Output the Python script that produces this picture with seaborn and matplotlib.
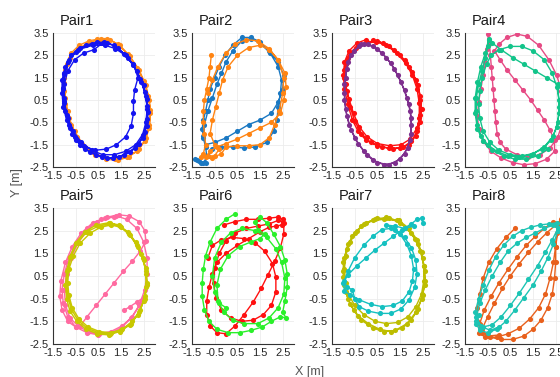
import matplotlib
matplotlib.use('Agg')
import matplotlib.pyplot as plt
import seaborn as sns

# trajectories, (x, y) in metres
pair1_orange = [(0.6, 3.25), (0.1, 3.15), (-0.35, 2.95), (-0.7, 2.6), (-0.9, 2.1), (-1.0, 1.5), (-1.0, 0.9),
                (-0.95, 0.3), (-0.8, -0.3), (-0.55, -0.9), (-0.2, -1.45), (0.25, -1.85), (0.75, -2.05),
                (1.25, -2.15), (1.75, -2.05), (2.2, -1.8), (2.55, -1.35), (2.75, -0.75), (2.8, -0.1),
                (2.75, 0.5), (2.6, 1.15), (2.3, 1.85), (1.9, 2.45), (1.45, 2.95), (1.0, 3.2),
                (0.55, 3.2), (0.05, 3.05), (-0.4, 2.8), (-0.75, 2.4), (-0.95, 1.85), (-1.0, 1.25),
                (-0.95, 0.6), (-0.85, 0.0), (-0.7, -0.6), (-0.45, -1.15), (-0.1, -1.6), (0.35, -1.95),
                (0.85, -2.15), (1.35, -2.2), (1.85, -2.05), (2.3, -1.7), (2.6, -1.2), (2.75, -0.6),
                (2.8, 0.05), (2.7, 0.7), (2.5, 1.35), (2.2, 1.95), (1.8, 2.55), (1.35, 3.0), (0.9, 3.25),
                (0.45, 3.25)]
pair1_blue = [(0.7, 3.05), (0.2, 3.0), (-0.3, 2.85), (-0.7, 2.5), (-0.95, 2.0), (-1.1, 1.4), (-1.1, 0.8),
              (-1.05, 0.2), (-0.9, -0.4), (-0.65, -1.0), (-0.3, -1.5), (0.15, -1.85), (0.65, -2.05),
              (1.15, -2.1), (1.65, -1.95), (2.1, -1.65), (2.45, -1.2), (2.65, -0.65), (2.7, -0.05),
              (2.65, 0.55), (2.5, 1.15), (2.2, 1.8), (1.8, 2.4), (1.35, 2.85), (0.9, 3.05),
              (0.45, 3.1), (-0.05, 2.95), (-0.5, 2.65), (-0.85, 2.2), (-1.0, 1.65), (-1.05, 1.05),
              (-1.0, 0.45), (-0.9, -0.15), (-0.75, -0.75), (-0.5, -1.3), (-0.1, -1.7), (0.4, -1.95),
              (0.9, -2.1), (1.4, -2.05), (1.9, -1.85), (2.3, -1.45), (2.55, -0.95), (2.65, -0.35),
              (2.65, 0.25), (2.55, 0.85), (2.35, 1.45), (2.05, 2.05), (1.65, 2.55), (1.2, 2.95),
              (0.75, 3.1), (0.3, 2.75), (-0.15, 2.6), (-0.55, 2.3), (-0.85, 1.8), (-1.0, 1.2),
              (-1.0, 0.6), (-0.95, 0.0), (-0.8, -0.6), (-0.55, -1.15), (-0.15, -1.55), (0.35, -1.75),
              (0.85, -1.7), (1.3, -1.5), (1.7, -1.15), (1.95, -0.65), (2.05, -0.1), (2.05, 0.45),
              (2.1, 0.95), (2.25, 1.5), (2.05, 2.1), (1.7, 2.5), (1.25, 2.8), (0.8, 2.95), (0.25, 2.95),
              (-0.4, 2.75), (-0.8, 2.3), (-1.0, 1.7), (-1.05, 1.0), (-1.0, 0.35), (-0.85, -0.3),
              (-0.6, -0.9), (-0.25, -1.4), (0.2, -1.75), (0.7, -1.95), (1.2, -1.95), (1.7, -1.8),
              (2.15, -1.5), (2.45, -1.05), (2.6, -0.5), (2.65, 0.1), (2.6, 0.7), (2.4, 1.3)]

pair2_blue = [(-1.3, -2.2), (-1.1, -2.3), (-0.9, -2.3), (-0.85, -2.0), (-0.9, -1.6), (-1.0, -1.2),
              (-1.05, -0.8), (-1.0, -0.4), (-0.9, 0.0), (-0.8, 0.5), (-0.7, 1.0), (-0.5, 1.5), (-0.3, 2.0),
              (-0.05, 2.5), (0.3, 2.95), (0.7, 3.3), (1.1, 3.3), (1.5, 3.1), (1.9, 2.7), (2.3, 2.2),
              (2.55, 1.6), (2.5, 1.0), (2.3, 0.4), (2.0, -0.1), (1.5, -0.4), (1.0, -0.6), (0.5, -0.9),
              (0.0, -1.2), (-0.5, -1.4), (-0.9, -1.5), (-1.0, -1.1), (-0.95, -0.6), (-0.8, 0.0),
              (-0.6, 0.6), (-0.4, 1.2), (-0.2, 1.7), (0.0, 2.2), (0.3, 2.7), (0.7, 3.15), (1.1, 3.25),
              (1.5, 3.05), (1.95, 2.6), (2.3, 2.0), (2.45, 1.4), (2.4, 0.8), (2.3, 0.2), (2.25, -0.4),
              (2.1, -0.9), (1.8, -1.4), (1.3, -1.6), (0.8, -1.65), (0.3, -1.6), (-0.2, -1.6),
              (-0.6, -1.7), (-0.8, -2.0), (-1.0, -2.3), (-1.2, -2.25), (-1.35, -2.15)]
pair2_orange = [(-0.65, 2.5), (-0.7, 2.0), (-0.75, 1.5), (-0.85, 1.0), (-0.95, 0.5), (-1.0, 0.0),
                (-1.0, -0.5), (-0.95, -1.0), (-0.9, -1.5), (-1.0, -1.9), (-1.1, -2.05), (-0.8, -2.0),
                (-0.5, -2.0), (-0.3, -1.7), (-0.5, -1.5), (-0.7, -1.0), (-0.6, -0.4), (-0.45, 0.2),
                (-0.3, 0.8), (-0.15, 1.4), (0.1, 2.0), (0.5, 2.5), (1.0, 2.85), (1.5, 2.95), (1.9, 2.75),
                (2.3, 2.3), (2.6, 1.7), (2.65, 1.1), (2.55, 0.5), (2.4, -0.1), (2.0, -0.5), (1.5, -0.75),
                (1.0, -1.0), (0.5, -1.25), (0.0, -1.45), (-0.4, -1.6), (-0.7, -1.8), (-0.9, -2.05),
                (-0.6, -2.1), (-0.2, -1.9), (0.0, -1.6), (0.5, -1.55), (1.0, -1.55), (1.5, -1.5),
                (1.9, -1.2), (2.15, -0.6), (2.35, 0.0), (2.5, 0.8), (2.55, 1.5), (2.3, 2.3), (1.9, 2.8),
                (1.4, 3.15), (0.9, 3.2), (0.4, 3.0), (0.0, 2.6), (-0.35, 2.0), (-0.6, 1.4), (-0.8, 0.8)]

pair3_red = [(0.0, 3.2), (-0.4, 3.05), (-0.75, 2.7), (-0.95, 2.2), (-1.0, 1.6), (-0.95, 1.0), (-0.8, 0.3),
             (-0.6, -0.4), (-0.35, -0.9), (0.0, -1.3), (0.5, -1.55), (1.0, -1.65), (1.5, -1.65), (1.9, -1.5),
             (2.2, -1.1), (2.4, -0.5), (2.45, 0.1), (2.4, 0.7), (2.2, 1.4), (1.9, 2.0), (1.5, 2.5),
             (1.0, 2.9), (0.5, 3.15), (0.05, 3.1), (-0.35, 2.95), (-0.7, 2.6), (-0.9, 2.1), (-0.95, 1.5),
             (-0.85, 0.9), (-0.7, 0.2), (-0.5, -0.45), (-0.2, -1.0), (0.2, -1.4), (0.7, -1.6), (1.2, -1.7),
             (1.65, -1.6), (2.0, -1.35), (2.25, -0.9), (2.35, -0.3), (2.35, 0.35), (2.25, 1.0),
             (2.05, 1.6), (1.75, 2.15), (1.35, 2.6), (0.9, 2.95), (0.45, 3.1), (0.0, 3.05), (-0.45, 2.85),
             (-0.8, 2.4), (-0.95, 1.85), (-0.9, 1.2), (-0.75, 0.55), (-0.55, -0.1), (-0.3, -0.7),
             (0.05, -1.15), (0.5, -1.45), (1.05, -1.55), (1.55, -1.5), (1.95, -1.25), (2.25, -0.75),
             (2.4, -0.15), (2.4, 0.5), (2.3, 1.15), (2.05, 1.75), (1.7, 2.3), (1.25, 2.75), (0.75, 3.05),
             (0.3, 3.2)]
pair3_purple = [(-0.2, 3.0), (-0.55, 2.7), (-0.8, 2.2), (-0.9, 1.5), (-0.95, 0.8), (-0.9, 0.1), (-0.75, -0.6),
                (-0.5, -1.2), (-0.1, -1.8), (0.3, -2.2), (0.8, -2.4), (1.3, -2.3), (1.7, -1.9), (1.95, -1.3),
                (2.0, -0.6), (1.95, 0.0), (1.8, 0.6), (1.55, 1.3), (1.25, 1.9), (0.9, 2.4), (0.5, 2.8),
                (0.1, 3.0), (-0.3, 2.9), (-0.65, 2.5), (-0.85, 1.9), (-0.95, 1.2), (-0.95, 0.5),
                (-0.85, -0.2), (-0.65, -0.85), (-0.35, -1.45), (0.05, -1.95), (0.5, -2.3), (1.0, -2.4),
                (1.5, -2.15), (1.85, -1.65), (2.0, -1.0), (2.0, -0.3), (1.9, 0.3), (1.7, 0.95), (1.4, 1.6),
                (1.1, 2.15), (0.7, 2.6), (0.3, 2.9), (-0.1, 3.0)]

pair4_pink = [(-0.9, -0.8), (-0.95, -0.2), (-0.9, 0.4), (-0.8, 1.0), (-0.7, 1.6), (-0.6, 2.2), (-0.52, 2.8),
              (-0.47, 3.45), (-0.42, 3.0), (-0.38, 2.5), (-0.34, 2.0), (-0.3, 1.5), (-0.26, 1.0),
              (-0.22, 0.5), (-0.18, 0.0), (-0.14, -0.5), (-0.08, -1.0), (0.05, -1.4), (0.3, -1.7),
              (0.8, -1.95), (1.3, -2.05), (1.8, -1.95), (2.25, -1.65), (2.6, -1.15), (2.8, -0.5),
              (2.85, 0.2), (2.75, 0.9), (2.55, 1.6), (2.2, 2.3), (1.75, 2.95), (1.25, 3.35), (0.8, 3.45),
              (0.35, 3.3), (0.0, 3.0), (-0.2, 2.7), (0.05, 2.3), (0.35, 1.85), (0.7, 1.4), (1.05, 0.95),
              (1.4, 0.5), (1.7, 0.05), (2.0, -0.4), (2.25, -0.85), (2.45, -1.3), (2.45, -1.8), (2.1, -2.15),
              (1.6, -2.35), (1.1, -2.4), (0.6, -2.3), (0.1, -2.1), (-0.35, -1.8), (-0.7, -1.35), (-0.9, -0.8)]
pair4_green = [(-0.45, 3.25), (-0.5, 2.9), (-0.6, 2.4), (-0.75, 1.8), (-0.9, 1.2), (-1.0, 0.6), (-1.0, 0.0),
               (-0.95, -0.6), (-0.8, -1.1), (-0.5, -1.5), (-0.1, -1.8), (0.4, -2.0), (0.9, -2.05),
               (1.4, -1.95), (1.9, -1.7), (2.3, -1.3), (2.55, -0.7), (2.65, -0.1), (2.65, 0.5), (2.55, 1.1),
               (2.35, 1.7), (2.0, 2.3), (1.5, 2.7), (1.0, 2.9), (0.5, 2.9), (0.0, 2.75), (-0.35, 2.5),
               (-0.55, 2.1), (-0.75, 1.5), (-0.85, 0.9), (-0.9, 0.3), (-0.85, -0.3), (-0.7, -0.9),
               (-0.4, -1.4), (0.0, -1.75), (0.5, -1.95), (1.0, -2.0), (1.5, -1.9), (2.0, -1.6), (2.4, -1.1),
               (2.6, -0.5), (2.65, 0.2), (2.6, 1.2), (2.1, 1.5), (1.6, 1.8), (1.1, 2.1), (0.6, 2.4),
               (0.1, 2.75), (-0.3, 3.05), (-0.45, 3.2), (-0.6, 2.6), (-0.8, 2.0), (-0.95, 1.3),
               (-1.05, 0.6), (-1.05, -0.1), (-0.95, -0.8), (-0.7, -1.35), (-0.3, -1.75), (0.2, -2.0),
               (0.7, -2.15), (1.2, -2.15), (1.7, -2.0), (2.15, -1.7)]

pair5_pink = [(1.2, 3.1), (0.6, 3.0), (0.0, 2.6), (-0.45, 2.0), (-0.8, 1.3), (-1.0, 0.6), (-1.1, -0.1),
              (-1.05, -0.7), (-0.85, -1.3), (-0.5, -1.75), (0.0, -2.0), (0.5, -2.1), (1.0, -2.05),
              (1.5, -1.8), (1.95, -1.35), (2.3, -0.8), (2.55, -0.1), (2.65, 0.6), (2.65, 1.3), (2.5, 2.0),
              (2.2, 2.6), (1.75, 3.0), (1.3, 3.15), (0.8, 3.05), (0.25, 2.85), (-0.25, 2.4), (-0.65, 1.8),
              (-0.95, 1.1), (-1.15, 0.3), (-1.2, -0.4), (-1.1, -1.0), (-0.85, -1.5), (-0.5, -1.75),
              (-0.3, -1.7), (0.0, -1.3), (0.4, -0.8), (0.8, -0.3), (1.2, 0.2), (1.6, 0.7), (2.0, 1.15),
              (2.35, 1.6), (2.6, 2.05), (2.55, 2.5), (2.3, 2.9), (1.85, 3.15), (1.4, 3.2), (0.9, 3.1),
              (0.45, 2.9), (0.0, 2.5), (-0.4, 1.95), (-0.7, 1.3), (-0.9, 0.6), (-1.0, -0.1),
              (-0.95, -0.8), (-0.75, -1.35), (-0.4, -1.7), (0.05, -1.95), (0.55, -2.05), (1.05, -1.95),
              (1.55, -1.7), (2.0, -1.3), (2.35, -0.75), (2.5, -0.45), (2.2, -0.65), (1.9, -0.85),
              (1.65, -1.0)]
pair5_yellow = [(1.0, 2.8), (0.5, 2.7), (0.0, 2.45), (-0.4, 2.0), (-0.7, 1.4), (-0.85, 0.8), (-0.9, 0.2),
                (-0.85, -0.4), (-0.7, -0.95), (-0.4, -1.45), (0.0, -1.8), (0.5, -2.0), (1.0, -2.05),
                (1.5, -1.9), (1.95, -1.6), (2.3, -1.1), (2.55, -0.5), (2.65, 0.1), (2.6, 0.7), (2.45, 1.3),
                (2.2, 1.85), (1.85, 2.35), (1.45, 2.7), (0.95, 2.85), (0.4, 2.75), (-0.1, 2.45),
                (-0.5, 1.95), (-0.75, 1.35), (-0.9, 0.7), (-0.95, 0.1), (-0.9, -0.5), (-0.75, -1.05),
                (-0.45, -1.5), (-0.05, -1.85), (0.45, -2.05), (0.95, -2.1), (1.45, -1.95), (1.9, -1.65),
                (2.25, -1.2), (2.5, -0.6), (2.6, 0.0), (2.6, 0.6), (2.5, 1.2), (2.25, 1.8), (1.9, 2.3),
                (1.5, 2.65), (1.05, 2.75), (0.6, 2.65), (0.15, 2.4), (-0.3, 1.95), (-0.6, 1.4),
                (-0.8, 0.8), (-0.85, 0.2), (-0.8, -0.35), (-0.65, -0.9), (-0.35, -1.4), (0.05, -1.75),
                (0.55, -1.95), (1.05, -2.0), (1.55, -1.85), (2.0, -1.5), (2.35, -1.0), (2.55, -0.4),
                (2.65, 0.2), (2.6, 0.85), (2.4, 1.45), (2.15, 2.0), (1.8, 2.45), (1.4, 2.75), (1.0, 2.85)]

pair6_red = [(-0.1, 2.75), (0.4, 2.9), (0.9, 3.0), (1.4, 3.0), (1.9, 3.05), (2.3, 3.1), (2.5, 3.0),
             (2.45, 2.75), (2.2, 2.7), (1.9, 2.65), (1.5, 2.45), (1.0, 2.15), (0.5, 1.85), (0.0, 1.5),
             (-0.4, 1.1), (-0.6, 0.6), (-0.75, 0.0), (-0.85, -0.6), (-0.85, -1.2), (-0.7, -1.7),
             (-0.4, -2.0), (0.0, -2.05), (0.4, -1.7), (0.8, -1.2), (1.2, -0.65), (1.55, -0.05),
             (1.85, 0.55), (2.15, 1.15), (2.4, 1.75), (2.55, 2.35), (2.55, 2.85), (2.3, 2.95), (1.9, 2.8),
             (1.4, 2.7), (0.9, 2.6), (0.4, 2.4), (0.0, 2.05), (-0.3, 1.5), (-0.5, 0.85), (-0.55, 0.2),
             (-0.45, -0.45), (-0.2, -1.0), (0.2, -1.35), (0.7, -1.5), (1.2, -1.45), (1.65, -1.2),
             (2.0, -0.8), (2.2, -0.2), (2.2, 0.45), (2.05, 1.05), (1.7, 1.6), (1.3, 1.95), (0.8, 2.15),
             (0.3, 2.2), (-0.2, 2.1), (-0.6, 1.85), (-0.8, 1.3)]
pair6_green = [(0.4, 3.25), (0.0, 3.0), (-0.4, 2.6), (-0.7, 2.0), (-0.9, 1.4), (-1.0, 0.8), (-1.05, 0.2),
               (-1.05, -0.4), (-0.95, -1.0), (-0.75, -1.5), (-0.4, -1.85), (0.1, -2.0), (0.6, -2.0),
               (1.1, -1.9), (1.6, -1.75), (2.0, -1.5), (2.4, -1.3), (2.65, -1.35), (2.5, -1.1), (2.6, -0.6),
               (2.7, 0.0), (2.7, 0.6), (2.6, 1.2), (2.4, 1.8), (2.1, 2.35), (1.8, 2.85), (1.5, 3.1),
               (1.3, 2.9), (1.4, 2.55), (1.7, 2.35), (1.5, 2.15), (1.1, 2.0), (0.6, 1.8), (0.1, 1.4),
               (-0.25, 0.8), (-0.4, 0.1), (-0.35, -0.6), (-0.1, -1.1), (0.3, -1.45), (0.8, -1.6),
               (1.4, -1.6), (1.9, -1.35), (2.3, -0.9), (2.55, -0.3), (2.6, 0.4), (2.45, 1.1), (2.2, 1.7),
               (1.8, 2.2), (1.3, 2.5), (0.7, 2.6), (0.2, 2.4), (-0.2, 2.0), (-0.5, 1.3), (-0.6, 0.5),
               (-0.5, -0.2), (-0.3, -0.7), (0.0, -0.9)]

pair7_yellow = [(0.9, 3.05), (0.4, 3.0), (-0.1, 2.8), (-0.5, 2.4), (-0.8, 1.9), (-0.95, 1.3), (-1.0, 0.7),
                (-0.95, 0.1), (-0.8, -0.5), (-0.55, -1.0), (-0.2, -1.45), (0.3, -1.8), (0.8, -1.95),
                (1.3, -1.9), (1.8, -1.6), (2.2, -1.1), (2.45, -0.5), (2.6, 0.1), (2.6, 0.7), (2.5, 1.3),
                (2.3, 1.9), (2.0, 2.4), (1.5, 2.85), (1.0, 3.05), (0.5, 3.05), (0.0, 2.85), (-0.4, 2.5),
                (-0.7, 2.0), (-0.9, 1.4), (-0.95, 0.8), (-0.9, 0.2), (-0.75, -0.35), (-0.5, -0.8),
                (-0.1, -1.2), (0.4, -1.5), (0.9, -1.6), (1.4, -1.55), (1.85, -1.3), (2.2, -0.85),
                (2.45, -0.3), (2.55, 0.3), (2.55, 0.95), (2.45, 1.55), (2.25, 2.1), (1.9, 2.6),
                (1.45, 2.95), (0.8, 3.0), (0.3, 2.95), (-0.2, 2.7), (-0.6, 2.25), (-0.85, 1.7),
                (-1.0, 1.1), (-1.0, 0.45), (-0.9, -0.2), (-0.7, -0.75), (-0.35, -1.25), (0.1, -1.6),
                (0.6, -1.85), (1.1, -1.95), (1.6, -1.8), (2.0, -1.45), (2.3, -0.95), (2.5, -0.35),
                (2.6, 0.3), (2.55, 0.95), (2.4, 1.6), (2.15, 2.15), (1.8, 2.6), (1.35, 2.95), (0.9, 3.1)]
pair7_cyan = [(2.5, 2.85), (2.45, 3.05), (2.25, 3.0), (2.0, 2.8), (1.6, 2.55), (1.2, 2.25), (0.8, 1.95),
              (0.4, 1.65), (0.0, 1.3), (-0.4, 0.95), (-0.8, 0.55), (-1.0, 0.2), (-0.95, -0.15), (-0.7, -0.35),
              (-0.3, -0.55), (0.2, -0.75), (0.7, -0.85), (1.2, -0.8), (1.6, -0.6), (1.9, -0.2), (2.05, 0.3),
              (2.1, 0.8), (2.0, 1.4), (1.8, 1.9), (1.5, 2.35), (1.1, 2.6), (0.7, 2.55), (0.3, 2.25),
              (-0.1, 1.85), (-0.5, 1.3), (-0.8, 0.7), (-0.95, 0.3), (-0.85, 0.0), (-0.6, -0.1),
              (-0.5, -0.5), (-0.3, -0.85), (0.1, -1.05), (0.6, -1.15), (1.1, -1.15), (1.55, -0.95),
              (1.9, -0.55), (2.15, 0.0), (2.25, 0.6), (2.2, 1.2), (2.0, 1.75), (1.7, 2.2), (1.3, 2.55),
              (0.9, 2.75), (1.3, 2.7), (1.7, 2.6), (2.1, 2.7)]

pair8_orange = [(0.7, 2.6), (0.3, 2.2), (-0.1, 1.7), (-0.45, 1.1), (-0.7, 0.4), (-0.85, -0.3), (-0.95, -0.9),
                (-0.95, -1.5), (-0.75, -2.0), (-0.4, -2.2), (0.1, -2.3), (0.6, -2.3), (1.1, -2.15),
                (1.5, -1.85), (1.85, -1.45), (2.15, -0.9), (2.35, -0.3), (2.45, 0.4), (2.5, 1.1), (2.5, 1.8),
                (2.55, 2.4), (2.6, 2.85), (2.4, 2.9), (2.0, 2.6), (1.6, 2.25), (1.2, 1.85), (0.8, 1.35),
                (0.4, 0.8), (0.0, 0.2), (-0.35, -0.4), (-0.65, -1.0), (-0.85, -1.6), (-0.9, -2.0),
                (-0.6, -2.2), (-0.1, -2.2), (0.4, -2.05), (0.9, -1.8), (1.35, -1.4), (1.75, -0.9),
                (2.05, -0.3), (2.25, 0.4), (2.4, 1.1), (2.5, 1.8), (2.6, 2.5), (2.75, 3.0), (2.5, 2.75),
                (2.1, 2.4), (1.7, 2.0), (1.3, 1.55), (0.9, 1.05), (0.5, 0.5), (0.15, -0.05), (-0.2, -0.7),
                (-0.5, -1.3), (-0.75, -1.85), (-0.5, -2.15), (0.0, -2.1)]
pair8_cyan = [(-0.9, -1.2), (-1.0, -1.6), (-0.85, -1.9), (-0.5, -2.0), (-0.1, -1.85), (0.3, -1.5), (0.7, -1.0),
              (1.1, -0.45), (1.5, 0.1), (1.85, 0.7), (2.15, 1.3), (2.4, 1.9), (2.6, 2.5), (2.55, 2.85),
              (2.2, 2.8), (1.8, 2.75), (1.4, 2.65), (1.0, 2.5), (0.6, 2.25), (0.2, 1.85), (-0.15, 1.35),
              (-0.45, 0.75), (-0.7, 0.1), (-0.9, -0.5), (-1.05, -1.1), (-1.0, -1.5), (-0.7, -1.75),
              (-0.3, -1.65), (0.1, -1.3), (0.5, -0.8), (0.9, -0.25), (1.3, 0.35), (1.7, 0.95), (2.05, 1.55),
              (2.35, 2.1), (2.6, 2.6), (2.4, 2.75), (2.0, 2.6), (1.6, 2.4), (1.2, 2.2), (0.8, 1.95),
              (0.4, 1.6), (0.05, 1.1), (-0.3, 0.5), (-0.6, -0.1), (-0.85, -0.7), (-1.0, -1.3), (-0.8, -1.7),
              (-0.4, -1.9), (0.0, -1.75)]

titles = ['Pair1', 'Pair2', 'Pair3', 'Pair4', 'Pair5', 'Pair6', 'Pair7', 'Pair8']
series = [
    [(pair1_orange, '#ff8c1a'), (pair1_blue, '#1414f0')],
    [(pair2_blue, '#1a78c2'), (pair2_orange, '#ff8412')],
    [(pair3_red, '#ff1010'), (pair3_purple, '#7e2f8e')],
    [(pair4_pink, '#e64a84'), (pair4_green, '#12c48a')],
    [(pair5_pink, '#ff6aa0'), (pair5_yellow, '#c8c800')],
    [(pair6_red, '#ff1010'), (pair6_green, '#2af02a')],
    [(pair7_yellow, '#bdbd00'), (pair7_cyan, '#14c0c0')],
    [(pair8_orange, '#e8601c'), (pair8_cyan, '#1cc4b4')],
]
x_ticks = [-1.5, -0.5, 0.5, 1.5, 2.5]
y_ticks = [-2.5, -1.5, -0.5, 0.5, 1.5, 2.5, 3.5]

sns.set_theme(style="whitegrid")
plt.rcParams['font.family'] = ['Liberation Sans', 'DejaVu Sans']
plt.rcParams['axes.unicode_minus'] = False

fig = plt.figure(figsize=(5.6, 3.77), dpi=100)
W, H = 560.0, 377.0
lefts = [53, 192, 332, 465]
rows = [(33, 167), (208, 344)]   # pixel top / bottom of each row
ax_w = 102

for i, title in enumerate(titles):
    r, c = divmod(i, 4)
    top, bot = rows[r]
    ax = fig.add_axes([lefts[c] / W, 1 - bot / H, ax_w / W, (bot - top) / H])
    for pts, col in series[i]:
        xs = [p[0] for p in pts]
        ys = [p[1] for p in pts]
        sns.lineplot(x=xs, y=ys, sort=False, estimator=None, color=col, linewidth=1.0,
                     marker='o', markersize=3.7, markeredgewidth=0, ax=ax)
    ax.set_xlim(-1.5, 3.0)
    ax.set_ylim(-2.5, 3.5)
    ax.set_xticks(x_ticks)
    ax.set_yticks(y_ticks)
    ax.set_xticklabels([f'{v:g}' for v in x_ticks])
    ax.set_yticklabels([f'{v:g}' for v in y_ticks])
    ax.tick_params(labelsize=8, colors='#262626', length=2, width=0.6, pad=1)
    ax.grid(True, color='#ececec', linewidth=0.6)
    ax.set_facecolor('white')
    for s in ['top', 'right']:
        ax.spines[s].set_visible(False)
    for s in ['left', 'bottom']:
        ax.spines[s].set_color('#333333')
        ax.spines[s].set_linewidth(0.8)
    ax.set_xlabel('')
    ax.set_ylabel('')
    ax.text(0.07, 1.09, title, transform=ax.transAxes, fontsize=10.5, ha='left', va='center',
            color='#1a1a1a')

fig.text(0.03, 0.515, 'Y [m]', rotation=90, fontsize=9, color='#555555', ha='center', va='center')
fig.text(0.553, 0.014, 'X [m]', fontsize=9, color='#555555', ha='center', va='center')

fig.savefig('out.png', dpi=100)
